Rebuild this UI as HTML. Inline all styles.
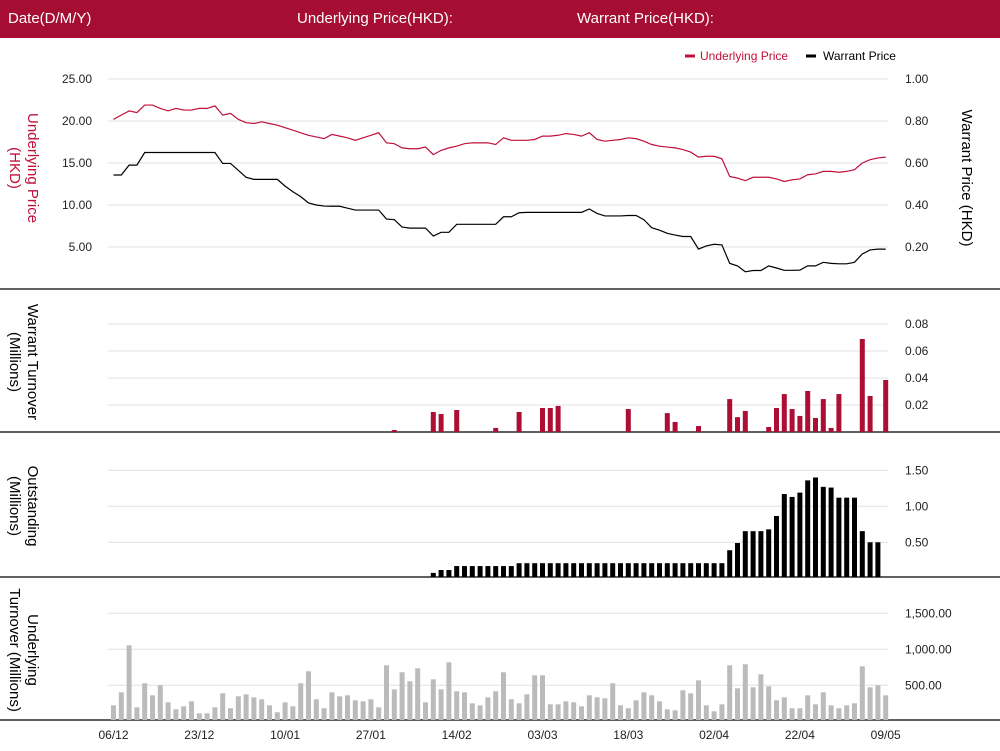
<!DOCTYPE html>
<html><head><meta charset="utf-8"><style>
body{margin:0;width:1000px;height:751px;overflow:hidden;background:#fff;font-family:"Liberation Sans",sans-serif}
#hdr{position:absolute;left:0;top:0;width:1000px;height:38px;background:#a50d32;color:#fff;font-size:15px}
#hdr span{position:absolute;top:10px}
svg{position:absolute;left:0;top:0}
</style></head><body>
<div id="hdr">
<span style="left:8px">Date(D/M/Y)</span>
<span style="left:297px">Underlying Price(HKD):</span>
<span style="left:577px">Warrant Price(HKD):</span>
</div>
<svg id="c" width="1000" height="751"></svg>
<script>
const dateLabels=["06/12","23/12","10/01","27/01","14/02","03/03","18/03","02/04","22/04","09/05"];
const underlying=[20.2,20.7,21.2,21.0,21.9,21.9,21.5,21.2,21.5,21.3,21.3,21.5,21.5,21.8,20.7,20.9,20.2,19.8,19.7,19.9,19.7,19.5,19.2,18.9,18.6,18.3,18.1,17.9,18.4,18.2,18.0,17.7,18.0,18.3,18.6,17.4,17.3,16.8,16.7,16.7,16.9,16.0,16.5,16.8,17.0,17.3,17.4,17.4,17.4,17.2,18.0,17.7,17.7,17.7,17.8,18.2,18.2,18.3,18.5,18.4,18.2,18.6,17.8,17.6,17.7,17.8,18.0,17.9,17.6,17.2,17.0,16.9,16.8,16.6,16.3,15.7,15.8,15.8,15.5,13.4,13.2,12.9,13.3,13.3,13.3,13.1,12.8,13.0,13.1,13.6,13.7,14.0,14.0,13.9,14.0,14.2,15.0,15.4,15.6,15.7];
const warrant=[.543,.543,.59,.59,.65,.65,.65,.65,.65,.65,.65,.65,.65,.65,.598,.598,.565,.532,.522,.522,.522,.522,.49,.463,.44,.41,.40,.395,.394,.394,.385,.376,.376,.376,.376,.333,.33,.295,.29,.29,.29,.252,.27,.27,.308,.308,.308,.308,.308,.308,.344,.344,.363,.365,.365,.365,.365,.365,.365,.365,.365,.381,.36,.348,.348,.348,.35,.35,.33,.292,.28,.265,.257,.25,.25,.19,.205,.213,.21,.122,.11,.082,.088,.088,.11,.1,.089,.089,.09,.11,.11,.127,.122,.12,.12,.127,.167,.186,.19,.19];
const wtIdx=[36,41,42,44,49,52,55,56,57,66,71,72,75,79,80,81,84,85,86,87,88,89,90,91,92,93,96,97,99];
const wtVal=[.0015,.0148,.0133,.0163,.003,.0148,.0178,.0178,.0193,.017,.014,.0074,.0044,.0244,.011,.0156,.0037,.0178,.0281,.017,.0119,.0304,.0104,.0244,.003,.0281,.0689,.0267,.0385];
const outstanding=[0,0,0,0,0,0,0,0,0,0,0,0,0,0,0,0,0,0,0,0,0,0,0,0,0,0,0,0,0,0,0,0,0,0,0,0,.02,.02,.02,.02,.02,.075,.115,.115,.17,.17,.17,.17,.17,.17,.17,.17,.21,.21,.21,.21,.21,.21,.21,.21,.21,.21,.21,.21,.21,.21,.21,.21,.21,.21,.21,.21,.21,.21,.21,.21,.21,.21,.21,.39,.49,.655,.655,.655,.68,.865,1.17,1.13,1.19,1.36,1.40,1.27,1.26,1.12,1.12,1.12,.655,.5,.5,0];
const utTop=[825,786,645,831,759,795,765,816,837,828,813,849,849,831,789,834,798,792,801,807,825,846,816,828,759,723,807,834,786,798,795,810,813,807,831,705,777,726,753,714,816,747,777,696,783,786,819,825,801,783,726,807,819,792,735,735,822,822,813,816,828,795,801,804,759,825,834,810,786,795,813,837,840,780,789,750,825,843,822,705,774,702,771,732,768,810,801,834,834,795,822,786,825,834,825,819,708,771,765,795];
const underTurnover=utTop.map(v=>Math.round((873-v)*4.63));
const priceTicks=[5,10,15,20,25], warrantTicks=[0.2,0.4,0.6,0.8,1.0];
const wtTicks=[0.02,0.04,0.06,0.08], osTicks=[0.5,1.0,1.5], utTicks=[500,1000,1500];

const svg=document.getElementById('c');const NS='http://www.w3.org/2000/svg';
function el(t,a,txt){const e=document.createElementNS(NS,t);for(const k in a)e.setAttribute(k,a[k]);if(txt!==undefined)e.textContent=txt;svg.appendChild(e);return e;}
const X=i=>113.5+i*7.8;
const yP=v=>289-v*8.4, yW=v=>289-v*210, yT=v=>432-v*1350, yO=v=>578.3-v*72, yU=v=>721.3-v*0.072;
function grid(ticks,yf,fmt,side,name){ticks.forEach(t=>{const y=yf(t);
 const g=el('line',{x1:108,x2:888,y1:y,y2:y,stroke:'#e0e0e0','stroke-width':1});
 
 const tx=el('text',{x:side==='l'?92:905,y:y+4,'font-size':12,fill:'#222','text-anchor':side==='l'?'end':'start'},fmt(t));
 });}
grid(priceTicks,yP,v=>v.toFixed(2),'l','price-axis');
grid(warrantTicks,yW,v=>v.toFixed(2),'r','warrant-axis');
grid(wtTicks,yT,v=>v.toFixed(2),'r','warrant-turnover-axis');
grid(osTicks,yO,v=>v.toFixed(2),'r','outstanding-axis');
grid(utTicks,yU,v=>v.toLocaleString('en-US',{minimumFractionDigits:2}),'r','underlying-turnover-axis');
[289,432,577,720].forEach(y=>{const l=el('line',{x1:0,x2:1000,y1:y,y2:y,stroke:'#000','stroke-width':1.3});
 });
function line(arr,yf,col,name){const p=el('polyline',{points:arr.map((v,i)=>X(i)+','+yf(v)).join(' '),fill:'none',stroke:col,'stroke-width':1.2});
 }
line(underlying,yP,'#c0103c','underlying-price-line');
line(warrant,yW,'#000','warrant-price-line');
function bar(i,v,yf,base,col,name){const y=yf(v);const r=el('rect',{x:X(i)-2.5,y:y,width:5,height:Math.max(0,base-y),fill:col});
 }
wtIdx.forEach((i,k)=>bar(i,wtVal[k],yT,432,'#ad0e34','warrant-turnover-bar'));
outstanding.forEach((v,i)=>{if(v>0)bar(i,v,yO,577,'#000','outstanding-bar');});
underTurnover.forEach((v,i)=>bar(i,v,yU,720,'#bbb','underlying-turnover-bar'));
dateLabels.forEach((d,k)=>{const t=el('text',{x:X(k*11),y:739,'font-size':12,'text-anchor':'middle',fill:'#222'},d);
 });
// legend
let l1=el('line',{x1:685,x2:695,y1:56,y2:56,stroke:'#c0103c','stroke-width':3});
let t1=el('text',{x:700,y:60,'font-size':12,fill:'#c0103c'},'Underlying Price');
let l2=el('line',{x1:806,x2:816,y1:56,y2:56,stroke:'#000','stroke-width':3});
let t2=el('text',{x:823,y:60,'font-size':12,fill:'#000'},'Warrant  Price');
function vtitle(lines,x,y,rot,col,name){const t=el('text',{transform:`translate(${x},${y}) rotate(${rot})`,'font-size':15,fill:col,'text-anchor':'middle'});
 lines.forEach((s,k)=>{const ts=document.createElementNS(NS,'tspan');ts.setAttribute('x',0);ts.setAttribute('dy',k?18:0);ts.textContent=s;t.appendChild(ts);});
 }
vtitle(['Underlying Price','(HKD)'],28,168,90,'#c0103c','left-y-axis-title');
vtitle(['Warrant  Price (HKD)'],962,178,90,'#000','right-y-axis-title');
vtitle(['Warrant  Turnover','(Millions)'],28,362,90,'#000','warrant-turnover-title');
vtitle(['Outstanding','(Millions)'],28,506,90,'#000','outstanding-title');
vtitle(['Underlying','Turnover (Millions)'],28,650,90,'#000','underlying-turnover-title');
</script>
</body></html>
